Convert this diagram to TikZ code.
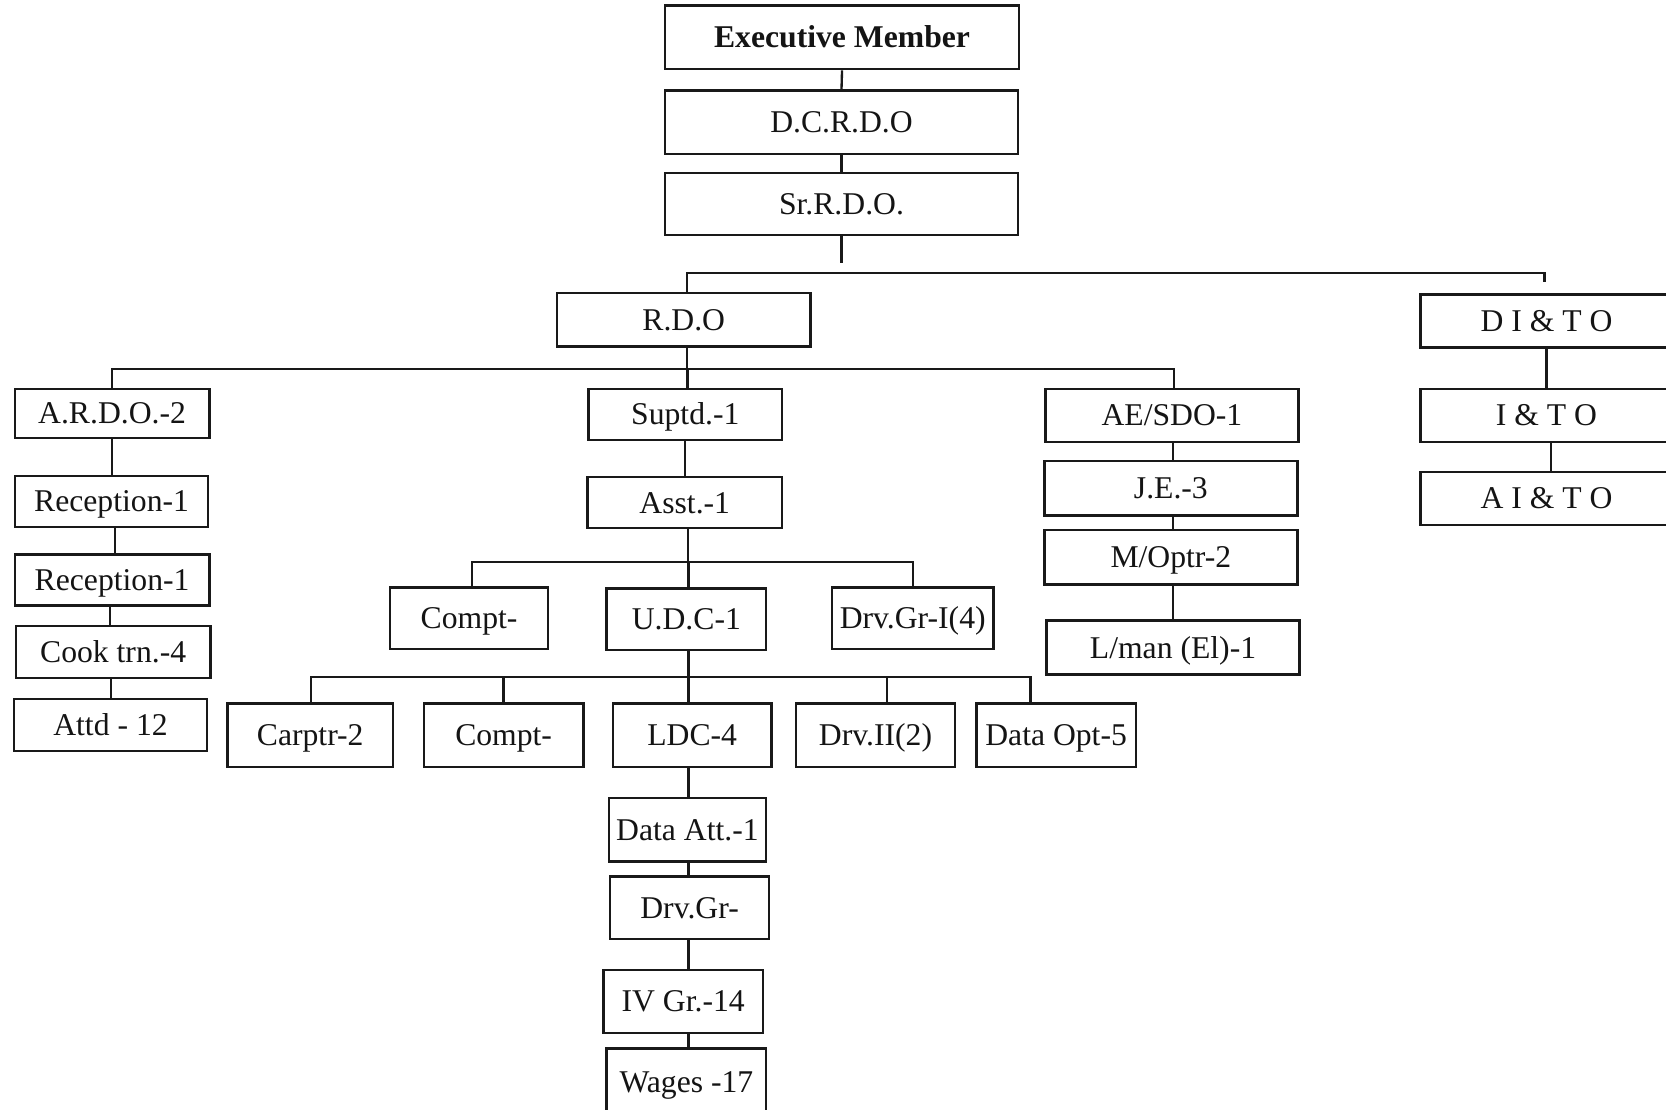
\documentclass[tikz,border=0pt]{standalone}
\usepackage{fontspec}
\setmainfont{Liberation Serif}
\begin{document}
\begin{tikzpicture}[x=1pt,y=1pt,
  line width=2pt, draw=black!90,
  box/.style={draw=black!90, line width=2.3pt, rectangle, inner sep=0pt,
    text height=19.7pt, text depth=0pt,
    font=\fontsize{29.8}{34}\selectfont, text=black!92},
  link/.style={draw=black!90, line width=2.2pt}]
\useasboundingbox (0,0) rectangle (1568,-1044);
\clip (0,0) rectangle (1568,-1044);
\fill[white] (0,0) rectangle (1568,-1044);

% top of the hierarchy
\node[box, minimum width=333, minimum height=60, font=\fontsize{29.8}{34}\selectfont\bfseries] (exe) at (792.5,-35) {Executive Member};
\node[box, minimum width=332, minimum height=60] (dcr) at (792,-115) {D.C.R.D.O};
\node[box, minimum width=332, minimum height=58] (srr) at (792,-192) {Sr.R.D.O.};

% second level
\node[box, minimum width=239, minimum height=50] (rdo) at (643.5,-301) {R.D.O};
\node[box, minimum width=237, minimum height=50] (dito) at (1455.5,-302) {D I \& T O};
\node[box, minimum width=237, minimum height=50] (ito) at (1455.5,-391) {I \& T O};
\node[box, minimum width=237, minimum height=50] (aito) at (1455.5,-469) {A I \& T O};

% A.R.D.O. branch
\node[box, minimum width=183, minimum height=46] (ardo) at (105.5,-389) {A.R.D.O.-2};
\node[box, minimum width=182, minimum height=48] (rec1) at (105,-472) {Reception-1};
\node[box, minimum width=183, minimum height=48] (rec2) at (105.5,-546) {Reception-1};
\node[box, minimum width=183, minimum height=49] (cook) at (106.5,-613.5) {Cook trn.-4};
\node[box, minimum width=182, minimum height=49] (attd) at (104,-682.5) {Attd - 12};

% Suptd. branch
\node[box, minimum width=182, minimum height=48] (sup) at (645,-390) {Suptd.-1};
\node[box, minimum width=183, minimum height=48] (asst) at (644.5,-473) {Asst.-1};
\node[box, minimum width=149, minimum height=58] (cmpa) at (441.5,-582) {Compt-};
\node[box, minimum width=150, minimum height=58] (udc) at (646,-583) {U.D.C-1};
\node[box, minimum width=152, minimum height=58] (drva) at (859,-582) {Drv.Gr-I(4)};

\node[box, minimum width=156, minimum height=60] (carp) at (292,-692) {Carptr-2};
\node[box, minimum width=150, minimum height=60] (cmpb) at (474,-692) {Compt-};
\node[box, minimum width=149, minimum height=60] (ldc) at (651.5,-692) {LDC-4};
\node[box, minimum width=150, minimum height=60] (drvb) at (824,-692) {Drv.II(2)};
\node[box, minimum width=150, minimum height=60] (dopt) at (994,-692) {Data Opt-5};

\node[box, minimum width=148, minimum height=60] (datt) at (647,-781) {Data Att.-1};
\node[box, minimum width=150, minimum height=59] (drvg) at (649,-854.5) {Drv.Gr-};
\node[box, minimum width=150, minimum height=59] (ivgr) at (643,-942.5) {IV Gr.-14};
\node[box, minimum width=150, minimum height=62] (wage) at (646,-1018) {Wages -17};

% AE/SDO branch
\node[box, minimum width=238, minimum height=50] (ae) at (1103,-391) {AE/SDO-1};
\node[box, minimum width=238, minimum height=51] (je) at (1102,-459.5) {J.E.-3};
\node[box, minimum width=238, minimum height=51] (mop) at (1102,-524.5) {M/Optr-2};
\node[box, minimum width=238, minimum height=51] (lman) at (1104,-609.5) {L/man (El)-1};

% bus lines
\coordinate (busa) at (0,-257);
\coordinate (busb) at (0,-347);
\coordinate (busc) at (0,-529);
\coordinate (busd) at (0,-637);
\coordinate (srtail) at ([yshift=-25pt]srr.south);
\coordinate (ditotick) at ([yshift=10pt]dito.north);

% connectors
\draw[link] (exe.south) -- (dcr.north);
\draw[link] (dcr.south) -- (srr.north);
\draw[link] (srr.south) -- (srtail);
\draw[link] ([xshift=3pt]rdo.north) -- ([xshift=3pt]rdo.north |- busa) -| ([xshift=-2pt]ditotick);
\draw[link] (dito.south) -- (ito.north);
\draw[link] ([xshift=4pt]ito.south) -- ([xshift=4pt]aito.north);

\draw[link] ([xshift=3pt]rdo.south) -- ([xshift=3pt]rdo.south |- busb);
\draw[link] (ardo.north) -- (ardo.north |- busb) -| ([xshift=2pt]ae.north);
\draw[link] ([xshift=2pt]sup.north) -- ([xshift=2pt]sup.north |- busb);

\draw[link] (ardo.south) -- (ardo.south |- rec1.north);
\draw[link] ([xshift=3pt]rec1.south) -- ([xshift=3pt]rec1.south |- rec2.north);
\draw[link] ([xshift=-2pt]rec2.south) -- ([xshift=-2pt]rec2.south |- cook.north);
\draw[link] ([xshift=-2pt]cook.south) -- ([xshift=-2pt]cook.south |- attd.north);

\draw[link] (sup.south) -- (sup.south |- asst.north);
\draw[link] ([xshift=3pt]asst.south) -- ([xshift=3pt]asst.south |- busc);
\draw[link] ([xshift=3pt]cmpa.north) -- ([xshift=3pt]cmpa.north |- busc) -| (drva.north);
\draw[link] ([xshift=2pt]udc.north) -- ([xshift=2pt]udc.north |- busc);

\draw[link] ([xshift=2pt]udc.south) -- ([xshift=2pt]udc.south |- busd);
\draw[link] ([xshift=1pt]carp.north) -- ([xshift=1pt]carp.north |- busd) -| ([xshift=-24pt]dopt.north);
\draw[link] (cmpb.north) -- (cmpb.north |- busd);
\draw[link] ([xshift=-3.5pt]ldc.north) -- ([xshift=-3.5pt]ldc.north |- busd);
\draw[link] ([xshift=11pt]drvb.north) -- ([xshift=11pt]drvb.north |- busd);

\draw[link] ([xshift=-3.5pt]ldc.south) -- ([xshift=-3.5pt]ldc.south |- datt.north);
\draw[link] ([xshift=1pt]datt.south) -- ([xshift=1pt]datt.south |- drvg.north);
\draw[link] ([xshift=-1pt]drvg.south) -- ([xshift=-1pt]drvg.south |- ivgr.north);
\draw[link] ([xshift=5pt]ivgr.south) -- ([xshift=5pt]ivgr.south |- wage.north);

\draw[link] ([xshift=1pt]ae.south) -- ([xshift=1pt]ae.south |- je.north);
\draw[link] ([xshift=2pt]je.south) -- ([xshift=2pt]je.south |- mop.north);
\draw[link] ([xshift=2pt]mop.south) -- ([xshift=2pt]mop.south |- lman.north);
\end{tikzpicture}
\end{document}
